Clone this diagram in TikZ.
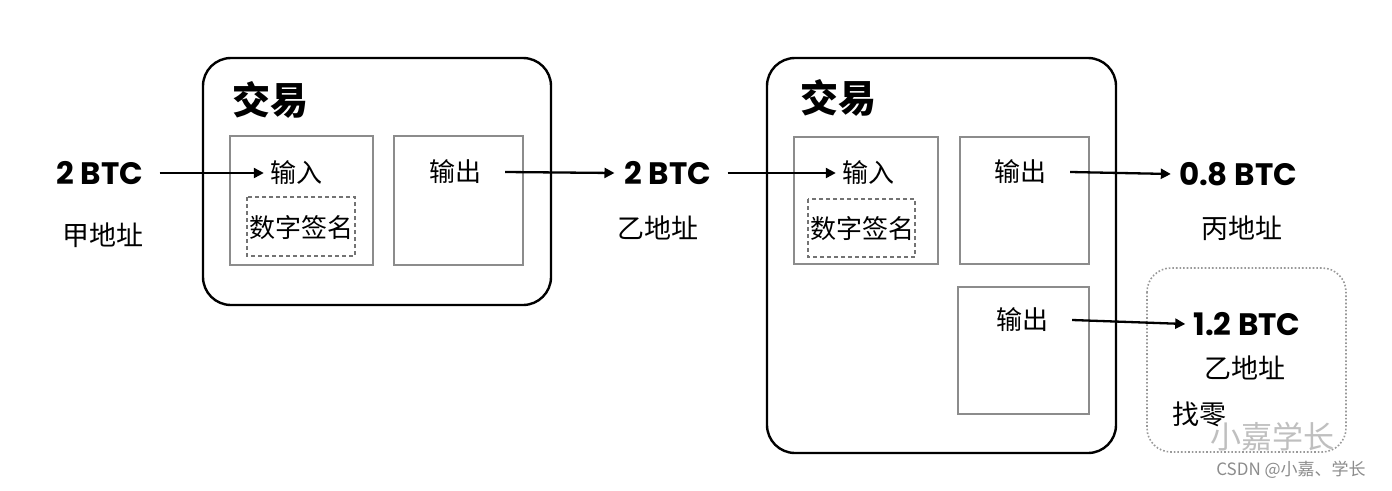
\documentclass[tikz,border=0pt]{standalone}
\usepackage{fontspec}
\setmainfont{Poppins}
\newfontfamily\cjk{Noto Sans CJK SC}
\usetikzlibrary{arrows.meta}
\begin{document}
\begin{tikzpicture}[x=1pt,y=-1pt,
  big/.style={draw=black,line width=2.4pt,rounded corners=28pt},
  inner/.style={draw=black!45,line width=1.6pt},
  sig/.style={draw=black!55,line width=1.3pt,dash pattern=on 4pt off 3pt},
  change/.style={draw=black!40,line width=1.6pt,dotted,rounded corners=24pt},
  btc/.style={font=\fontsize{31}{33}\selectfont\bfseries,inner sep=0pt},
  addr/.style={font=\cjk\fontsize{27}{29}\selectfont,inner sep=0pt},
  lbl/.style={font=\cjk\fontsize{26}{28}\selectfont,inner sep=0pt},
  title/.style={font=\cjk\fontsize{38}{40}\selectfont\bfseries,inner sep=0pt},
  arr/.style={line width=2.3pt,-{Triangle[length=10pt,width=10pt]}}]
\useasboundingbox (0,0) rectangle (1392,490);
\fill[white] (0,0) rectangle (1392,490);
% left transaction
\draw[big] (203,58) rectangle (551,305);
\node[title] (t1) at (270,100) {交易};
\draw[inner] (230,136) rectangle (373,265);
\draw[inner] (394,136) rectangle (523,265);
\node[lbl] (in1) at (296,173) {输入};
\draw[sig] (247,197) rectangle (355,256);
\node[lbl] (sig1) at (301,228) {数字签名};
\node[lbl] (out1) at (455,172) {输出};
\node[btc] (b1) at (100,173) {2 BTC};
\node[addr] (a1) at (103,235) {甲地址};
\node[btc] (b2) at (668,173) {2 BTC};
\node[addr] (a2) at (658,228) {乙地址};
% right transaction
\draw[big] (767,58) rectangle (1116,453);
\node[title] (t2) at (838,98) {交易};
\draw[inner] (794,137) rectangle (938,264);
\node[lbl] (in2) at (868,173) {输入};
\draw[sig] (808,199) rectangle (915,257);
\node[lbl] (sig2) at (862,229) {数字签名};
\draw[inner] (960,137) rectangle (1089,264);
\node[lbl] (out2) at (1020,172) {输出};
\draw[inner] (958,287) rectangle (1089,414);
\node[lbl] (out3) at (1022,320) {输出};
\node[btc] (b3) at (1238,174) {0.8 BTC};
\node[addr] (a3) at (1242,228) {丙地址};
\draw[change] (1147,268) rectangle (1346,452);
\node[btc] (b4) at (1247,324) {1.2 BTC};
\node[addr] (a4) at (1245,368) {乙地址};
\node[addr] (zl) at (1199,414) {找零};
% arrows
\draw[arr] ([xshift=16pt]b1.east) -- ([xshift=-6pt]in1.west);
\draw[arr] ([xshift=24pt]out1.east) -- ([xshift=-10pt]b2.west);
\draw[arr] ([xshift=16pt]b2.east) -- ([xshift=-6pt]in2.west);
\draw[arr] ([xshift=24pt]out2.east) -- ([xshift=-8pt]b3.west);
\draw[arr] ([xshift=24pt]out3.east) -- ([xshift=-8pt]b4.west);
% watermarks
\node[font=\cjk\fontsize{31}{33}\selectfont,text=black!25,inner sep=0pt] (wm) at (1272,437) {小嘉学长};
\node[font=\cjk\fontsize{17}{19}\selectfont,text=black!45,inner sep=0pt] (csdn) at (1291,470) {CSDN @小嘉、学长};
\end{tikzpicture}
\end{document}
